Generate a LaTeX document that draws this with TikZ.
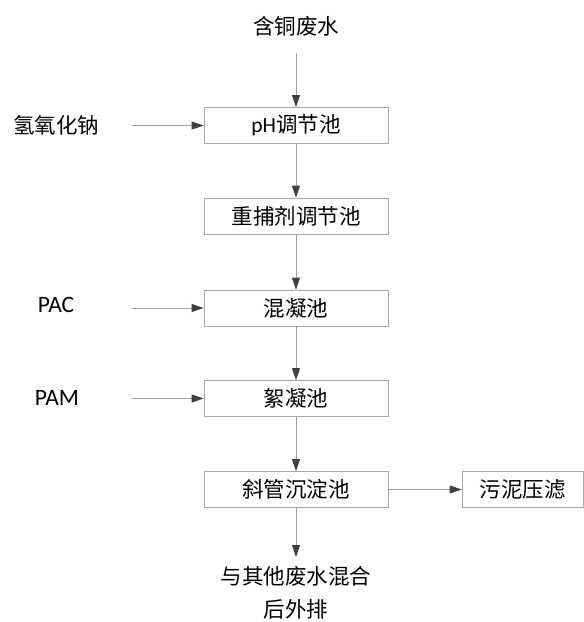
\documentclass[tikz,border=0pt]{standalone}
\usepackage{fontspec}
\setmainfont{Carlito}
\newfontfamily\cjk{Noto Sans CJK SC}
\usetikzlibrary{arrows.meta}
\definecolor{boxgray}{HTML}{A8A8A8}
\definecolor{linegray}{HTML}{A0A0A0}
\definecolor{tipgray}{HTML}{404040}
\begin{document}
\begin{tikzpicture}[x=1pt,y=-1pt,
  box/.style={draw=boxgray, line width=0.8pt, minimum width=184pt, minimum height=36pt, inner sep=0pt,
    font=\fontsize{21.5}{24}\selectfont},
  lbl/.style={inner sep=0pt, font=\fontsize{21.5}{33}\selectfont, align=center},
  latin/.style={inner sep=0pt, font=\fontsize{23.5}{26}\selectfont},
  flow/.style={draw=linegray, line width=0.8pt, -{Triangle[length=12pt,width=8pt,color=tipgray]}}
]
\useasboundingbox (0,0) rectangle (584,622);

\node[lbl] (src) at (296,26) {\cjk 含铜废水};
\coordinate (srcend) at (296,53);

\node[box] (ph) at (296,125.5) {pH{\cjk 调节池}};
\node[box] (cap) at (296,216) {\cjk 重捕剂调节池};
\node[box] (coag) at (296,308) {\cjk 混凝池};
\node[box] (floc) at (296,398.5) {\cjk 絮凝池};
\node[box] (sed) at (296,489.5) {\cjk 斜管沉淀池};
\node[box, minimum width=121pt] (press) at (522.5,489.5) {\cjk 污泥压滤};

\node[lbl] (naoh) at (56,125) {\cjk 氢氧化钠};
\node[latin] (pac) at (56,305) {PAC};
\node[latin] (pam) at (57,398) {PAM};
\coordinate (naohs) at (132,125.5);
\coordinate (pacs) at (132,308);
\coordinate (pams) at (132,398.5);

\coordinate (outend) at (296,557);
\node[lbl] (out) at (296,593) {{\cjk 与其他废水混合}\\{\cjk 后外排}};

\draw[flow] (srcend) -- (ph.north);
\draw[flow] (ph.south) -- (cap.north);
\draw[flow] (cap.south) -- (coag.north);
\draw[flow] (coag.south) -- (floc.north);
\draw[flow] (floc.south) -- (sed.north);
\draw[flow] (sed.east) -- (press.west);
\draw[flow] (sed.south) -- (outend);
\draw[flow] (naohs) -- (ph.west);
\draw[flow] (pacs) -- (coag.west);
\draw[flow] (pams) -- (floc.west);
\end{tikzpicture}
\end{document}
